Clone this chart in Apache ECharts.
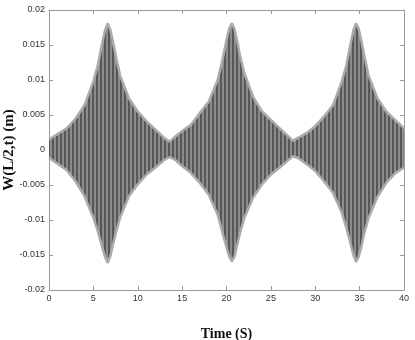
<!DOCTYPE html>
<html>
<head>
<meta charset="utf-8">
<script src="https://cdn.jsdelivr.net/npm/echarts@6/dist/echarts.min.js"></script>
<style>
    html, body { margin: 0; padding: 0; background: #fff; }
    #chart { width: 415px; height: 340px; }
</style>
</head>
<body>
<div id="chart"></div>
<script>
    // 时间 (s)
    var time = [0, 1, 2, 3, 4, 5, 5.5, 6, 6.3, 6.6, 6.9, 7.2, 7.5, 8, 9, 10, 11, 12, 13, 13.6,
        14.2, 15, 16, 17, 18, 19, 19.5, 20, 20.3, 20.6, 20.9, 21.2, 21.5, 22, 23, 24, 25, 26, 27, 27.5,
        28, 29, 30, 31, 32, 33, 33.5, 34, 34.3, 34.6, 34.9, 35.2, 35.5, 36, 37, 38, 39, 40];
    // 上包络
    var upper = [0.0015, 0.0023, 0.0031, 0.0045, 0.0064, 0.0098, 0.0121, 0.0153, 0.0170, 0.0181, 0.0172, 0.0155, 0.0136, 0.0107, 0.0074, 0.0055, 0.0041, 0.0029, 0.0017, 0.0012,
        0.0019, 0.0027, 0.0036, 0.0053, 0.0069, 0.0100, 0.0126, 0.0157, 0.0173, 0.0181, 0.0173, 0.0156, 0.0136, 0.0110, 0.0076, 0.0055, 0.0043, 0.0031, 0.0019, 0.0013,
        0.0017, 0.0024, 0.0034, 0.0048, 0.0064, 0.0098, 0.0121, 0.0153, 0.0171, 0.0181, 0.0173, 0.0156, 0.0136, 0.0107, 0.0074, 0.0055, 0.0043, 0.0031];
    // 下包络
    var lower = [-0.0011, -0.0020, -0.0029, -0.0045, -0.0066, -0.0097, -0.0116, -0.0139, -0.0152, -0.0161, -0.0152, -0.0136, -0.0120, -0.0097, -0.0066, -0.0049, -0.0035, -0.0025, -0.0014, -0.0010,
        -0.0014, -0.0023, -0.0033, -0.0047, -0.0064, -0.0092, -0.0116, -0.0139, -0.0152, -0.0159, -0.0152, -0.0136, -0.0120, -0.0097, -0.0068, -0.0049, -0.0035, -0.0025, -0.0014, -0.0009,
        -0.0011, -0.0020, -0.0030, -0.0045, -0.0061, -0.0090, -0.0111, -0.0135, -0.0150, -0.0160, -0.0152, -0.0138, -0.0120, -0.0097, -0.0067, -0.0047, -0.0033, -0.0025];
    var xTicks = [0, 5, 10, 15, 20, 25, 30, 35, 40];
    var yTicks = [-0.02, -0.015, -0.01, -0.005, 0, 0.005, 0.01, 0.015, 0.02];

    // 竖条纹理
    var stripe = document.createElement('canvas');
    stripe.width = 4;
    stripe.height = 4;
    var ctx = stripe.getContext('2d');
    ctx.fillStyle = '#575757';
    ctx.fillRect(0, 0, 2, 4);
    ctx.fillStyle = '#8c8c8c';
    ctx.fillRect(2, 0, 2, 4);

    function pairs(vals) {
        return time.map(function (t, i) { return [t, vals[i]]; });
    }

    var axisGray = '#9a9a9a';
    var labelStyle = {color: '#333', fontSize: 9, fontFamily: 'Liberation Sans', margin: 4};
    var nameStyle = {color: '#111', fontSize: 14, fontWeight: 'bold', fontFamily: 'Liberation Serif'};
    var edge = {color: '#ababab', width: 2.5};

    var myChart = echarts.init(document.getElementById('chart'), null, {renderer: 'canvas'});
    myChart.setOption({
        animation: false,
        // 高度 280, 使 0 落在整像素上
        grid: {left: 49, top: 10, right: 11, bottom: 50, outerBoundsMode: 'none', containLabel: false},
        xAxis: [{
            type: 'value',
            min: xTicks[0],
            max: xTicks[xTicks.length - 1],
            interval: 5,
            name: 'Time (S)',
            nameLocation: 'middle',
            nameGap: 37,
            nameMoveOverlap: false,
            nameTextStyle: nameStyle,
            axisLine: {onZero: false, lineStyle: {color: axisGray}},
            axisTick: {inside: true, length: 4, lineStyle: {color: axisGray}},
            axisLabel: labelStyle,
            splitLine: {show: false}
        }, {
            type: 'value',
            position: 'top',
            min: xTicks[0],
            max: xTicks[xTicks.length - 1],
            interval: 5,
            axisLine: {show: true, onZero: false, lineStyle: {color: axisGray}},
            axisTick: {inside: true, length: 4, lineStyle: {color: axisGray}},
            axisLabel: {show: false},
            splitLine: {show: false}
        }],
        yAxis: [{
            type: 'value',
            min: yTicks[0],
            max: yTicks[yTicks.length - 1],
            interval: 0.005,
            name: 'W(L/2,t) (m)',
            nameLocation: 'middle',
            nameGap: 32,
            nameMoveOverlap: false,
            nameTextStyle: Object.assign({}, nameStyle, {fontSize: 15}),
            axisLine: {show: true, onZero: false, lineStyle: {color: axisGray}},
            axisTick: {show: true, inside: true, length: 4, lineStyle: {color: axisGray}},
            axisLabel: labelStyle,
            splitLine: {show: false}
        }, {
            type: 'value',
            position: 'right',
            min: yTicks[0],
            max: yTicks[yTicks.length - 1],
            interval: 0.005,
            axisLine: {show: true, onZero: false, lineStyle: {color: axisGray}},
            axisTick: {show: true, inside: true, length: 4, lineStyle: {color: axisGray}},
            axisLabel: {show: false},
            splitLine: {show: false}
        }],
        series: [{
            name: 'upper',
            type: 'line',
            data: pairs(upper),
            symbol: 'none',
            lineStyle: edge,
            areaStyle: {color: {image: stripe, repeat: 'repeat'}, opacity: 1, origin: 0}
        }, {
            name: 'lower',
            type: 'line',
            data: pairs(lower),
            symbol: 'none',
            lineStyle: edge,
            areaStyle: {color: {image: stripe, repeat: 'repeat'}, opacity: 1, origin: 0}
        }]
    });
</script>
</body>
</html>
